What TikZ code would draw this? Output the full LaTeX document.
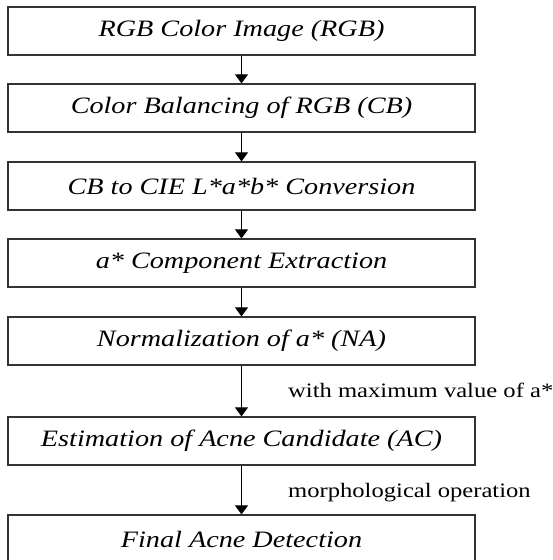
\documentclass[tikz,border=0pt]{standalone}
\usepackage{fontspec}
\setmainfont{Liberation Serif}
\newfontfamily\widefont[FakeStretch=1.2]{Liberation Serif}
\usetikzlibrary{positioning,arrows.meta}

\begin{document}
\begin{tikzpicture}[x=1pt,y=-1pt,
        stage/.style={draw=black!80,line width=1.2pt,minimum width=467pt,minimum height=48pt,
            inner sep=0pt,font=\widefont\itshape\fontsize{23.5}{26}\selectfont},
        note/.style={inner sep=0pt,anchor=west,font=\widefont\fontsize{20.5}{24}\selectfont},
        flow/.style={-{Triangle[width=13pt,length=9pt]},line width=0.8pt}]
    \useasboundingbox (0,0) rectangle (553,560);

    % processing stages
    \node[stage] (S1) at (241.5,31) {RGB Color Image (RGB)};
    \node[stage] (S2) at (241.5,108) {Color Balancing of RGB (CB)};
    \node[stage] (S3) at (241.5,186) {CB to CIE L*a*b* Conversion};
    \node[stage] (S4) at (241.5,263) {a* Component Extraction};
    \node[stage] (S5) at (241.5,341) {Normalization of a* (NA)};
    \node[stage] (S6) at (241.5,441) {Estimation of Acne Candidate (AC)};
    \node[stage] (S7) at (241.5,539) {Final Acne Detection};

    \foreach \x/\y in {S1/S2, S2/S3, S3/S4, S4/S5, S5/S6, S6/S7}
        {
            \draw[flow] (\x) -- (\y);
        }

    % side remarks
    \node[note] (N1) at (288,390) {with maximum value of a*};
    \node[note] (N2) at (288,493) {morphological operation};
\end{tikzpicture}
\end{document}
